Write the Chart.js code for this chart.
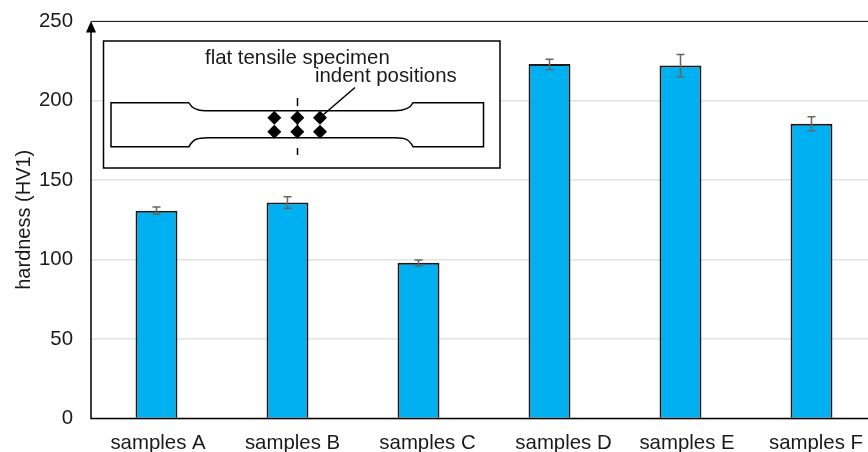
<!DOCTYPE html>
<html><head><meta charset="utf-8">
<style>html,body{margin:0;padding:0;background:#fff;overflow:hidden;width:868px;height:452px}
#wrap{position:relative;width:880px;height:452px}canvas{display:block}</style>
<script src="https://cdn.jsdelivr.net/npm/chart.js@4"></script></head><body>
<div id="wrap"><canvas id="c" width="880" height="452"></canvas></div>
<script>
const categories=["samples A","samples B","samples C","samples D","samples E","samples F"];
const hardness=[130.7,135.8,98,223,222,185.4];
const errHigh=[133,139.5,99.7,226,229,189.8];
const errLow=[128.5,132.2,95.8,219.4,215,181];
const yTicks=[0,50,100,150,200,250];
const insetTitle="flat tensile specimen";
const insetNote="indent positions";
const labelNudge=[1.5,5,9,14,6.5,4.5];
const FONT='"Liberation Sans", Arial, sans-serif';
const PLOT={left:91,top:21,right:877,bottom:418.5};

const errorBars={id:'errorBars',afterDatasetsDraw(ch){
  const {ctx,scales:{x,y}}=ch;ctx.save();ctx.strokeStyle='#666';ctx.lineWidth=1.5;
  categories.forEach((c,i)=>{const px=x.getPixelForValue(i),hi=y.getPixelForValue(errHigh[i]),lo=y.getPixelForValue(errLow[i]);
    ctx.beginPath();ctx.moveTo(px,hi);ctx.lineTo(px,lo);ctx.moveTo(px-4,hi);ctx.lineTo(px+4,hi);ctx.moveTo(px-4,lo);ctx.lineTo(px+4,lo);ctx.stroke();});
  ctx.restore();}};

const catLabels={id:'catLabels',afterDraw(ch){
  const {ctx,scales:{x}}=ch;ctx.save();ctx.font='20.4px '+FONT;ctx.fillStyle='#1a1a1a';ctx.textAlign='center';ctx.textBaseline='alphabetic';
  categories.forEach((c,i)=>ctx.fillText(c,x.getPixelForValue(i)+labelNudge[i],449));
  ctx.restore();}};

const frame={id:'frame',afterDraw(ch){
  const {ctx,chartArea:a}=ch;ctx.save();
  ctx.strokeStyle='#222';ctx.lineWidth=1;ctx.beginPath();ctx.moveTo(a.left,a.top+.5);ctx.lineTo(a.right,a.top+.5);ctx.stroke();
  ctx.strokeStyle='#000';ctx.lineWidth=1.5;ctx.beginPath();ctx.moveTo(a.left,a.top+8);ctx.lineTo(a.left,a.bottom);ctx.lineTo(a.right,a.bottom);ctx.stroke();
  ctx.fillStyle='#000';ctx.beginPath();ctx.moveTo(a.left,a.top);ctx.lineTo(a.left-5,a.top+11.5);ctx.lineTo(a.left+5,a.top+11.5);ctx.closePath();ctx.fill();
  ctx.restore();}};

const inset={id:'inset',afterDraw(ch){
  const ctx=ch.ctx;ctx.save();ctx.strokeStyle='#000';ctx.fillStyle='#fff';ctx.lineWidth=1.5;
  ctx.fillRect(103.5,41,396.5,127);ctx.strokeRect(103.5,41,396.5,127);
  ctx.beginPath();
  ctx.moveTo(189,102.7);ctx.lineTo(111,102.7);ctx.lineTo(111,146.7);ctx.lineTo(189,146.7);
  ctx.bezierCurveTo(193,139,198,137.7,208,137.7);ctx.lineTo(395,137.7);ctx.bezierCurveTo(405,137.7,409,139,413,146.7);
  ctx.lineTo(483.5,146.7);ctx.lineTo(483.5,102.7);ctx.lineTo(413,102.7);
  ctx.bezierCurveTo(410,109,404,110.7,395,110.7);ctx.lineTo(205,110.7);ctx.bezierCurveTo(197,110.7,192,109,189,102.7);
  ctx.stroke();
  ctx.beginPath();
  [[98,106],[111,138],[148,155]].forEach(([a,b])=>{ctx.moveTo(297.5,a);ctx.lineTo(297.5,b);});ctx.stroke();
  ctx.beginPath();ctx.moveTo(355,87.5);ctx.lineTo(323,115);ctx.stroke();
  ctx.fillStyle='#000';
  [274.3,297.3,320].forEach(dx=>[117.7,131.7].forEach(dy=>{ctx.beginPath();ctx.moveTo(dx-7,dy);ctx.lineTo(dx,dy-7);ctx.lineTo(dx+7,dy);ctx.lineTo(dx,dy+7);ctx.closePath();ctx.fill();}));
  ctx.font='20.4px '+FONT;ctx.textBaseline='alphabetic';ctx.textAlign='left';
  ctx.fillStyle='#1a1a1a';ctx.fillText(insetTitle,205,64);ctx.fillText(insetNote,315,82);
  ctx.restore();}};

new Chart(document.getElementById('c'),{type:'bar',
  data:{labels:categories,datasets:[{data:hardness,backgroundColor:'#00B0F0',borderColor:'#1a1a1a',borderWidth:2,categoryPercentage:1,barPercentage:0.32}]},
  options:{responsive:false,animation:false,events:[],
    layout:{padding:{left:0,right:3,top:PLOT.top,bottom:0}},
    plugins:{legend:{display:false},tooltip:{enabled:false}},
    scales:{
      x:{afterFit(s){s.height=452-PLOT.bottom;s.paddingLeft=0;s.paddingRight=0;},grid:{display:false},border:{display:false},
        ticks:{display:false}},
      y:{min:0,max:250,afterFit(s){s.width=PLOT.left;s.paddingTop=0;s.paddingBottom=0;},afterBuildTicks(s){s.ticks=yTicks.map(v=>({value:v}));},
        grid:{color:'#e2e2e2',lineWidth:1.5,drawTicks:false},border:{display:false},
        ticks:{color:'#1a1a1a',font:{family:FONT,size:20.4},padding:18},
        title:{display:true,text:'hardness (HV1)',color:'#1a1a1a',font:{family:FONT,size:20},padding:{top:12,bottom:0}}}
    }},
  plugins:[errorBars,catLabels,frame,inset]});
</script></body></html>
